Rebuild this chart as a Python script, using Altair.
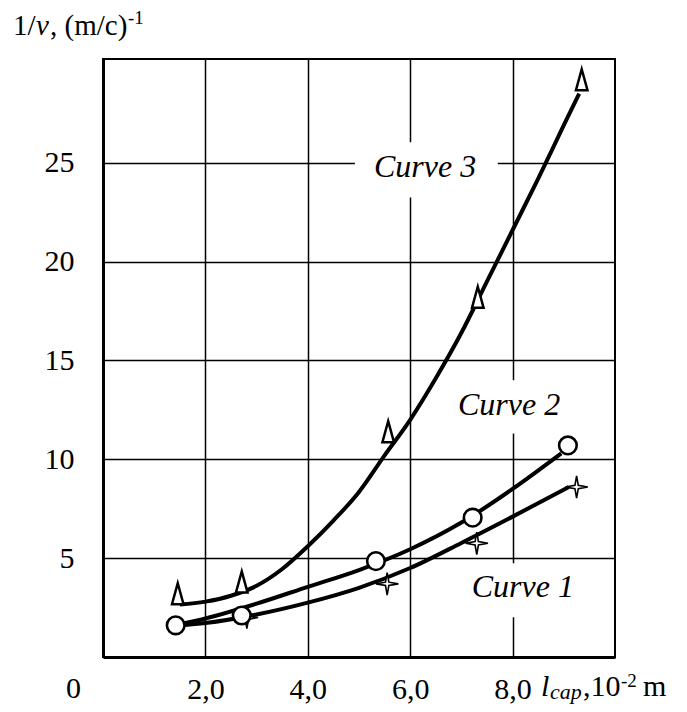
import altair as alt
import pandas as pd

FONT = "Liberation Serif"

# ---- smooth fitted curves ----
c1_x = [1.5, 2, 3, 4, 5, 6, 7, 8, 9.1]
c1_y = [1.6, 1.72, 2.15, 2.75, 3.5, 4.5, 5.77, 7.1, 8.6]
c2_x = [1.5, 2, 3, 4, 5, 6, 7, 8, 8.95]
c2_y = [1.65, 1.95, 2.7, 3.55, 4.4, 5.45, 6.8, 8.5, 10.3]
c3_x = [1.5, 2, 2.5, 3, 3.5, 4, 4.5, 5, 5.5, 6, 6.5, 7, 7.5, 8, 8.5, 9, 9.3]
c3_y = [2.65, 2.8, 3.1, 3.6, 4.45, 5.6, 6.9, 8.35, 10.2, 12.0, 14.1, 16.4, 19.0, 21.6, 24.2, 26.9, 28.5]

# ---- measured points ----
p1_x = [2.81, 5.55, 7.3, 9.25]
p1_y = [2.0, 3.7, 5.75, 8.6]
p2_x = [1.42, 2.71, 5.33, 7.22, 9.08]
p2_y = [1.6, 2.1, 4.85, 7.05, 10.7]
p3_x = [1.46, 2.71, 5.57, 7.32, 9.35]
p3_y = [3.2, 3.8, 11.4, 18.2, 29.2]

# ---- curve labels ----
label_text = ["Curve  3", "Curve  2", "Curve 1"]
label_x = [6.29, 7.93, 8.2]
label_y = [24.27, 12.23, 3.02]
box_x1 = [4.92, 6.68, 7.0]
box_x2 = [7.71, 9.2, 9.5]
box_y1 = [23.25, 11.3, 2.01]
box_y2 = [26.04, 14.0, 4.74]

x_ticks = [2, 4, 6, 8]
y_ticks = [5, 10, 15, 20, 25]

xs = alt.Scale(domain=[0, 10], nice=False, zero=False)
ys = alt.Scale(domain=[0, 30.25], nice=False, zero=False)

x_axis = alt.Axis(values=x_ticks, labelExpr="replace(format(datum.value,'.1f'),'.',',')",
                  grid=True, gridColor="black", gridWidth=1.5, gridOpacity=1,
                  ticks=False, tickSize=0, domain=True, domainColor="black", domainWidth=3,
                  labelFont=FONT, labelFontSize=30, labelColor="black", labelPadding=17,
                  labelFlush=False, title=None)
y_axis = alt.Axis(values=y_ticks, grid=True, gridColor="black", gridWidth=1.5, gridOpacity=1,
                  ticks=False, tickSize=0, domain=True, domainColor="black", domainWidth=3,
                  labelFont=FONT, labelFontSize=30, labelColor="black", labelPadding=29,
                  labelAlign="right", labelBaseline="middle", labelFlush=False, title=None)

def line_df(xv, yv):
    return pd.DataFrame({"x": xv, "y": yv})

boxes = alt.Chart(pd.DataFrame({"x1": box_x1, "x2": box_x2, "y1": box_y1, "y2": box_y2})).mark_rect(
    fill="white").encode(
    x=alt.X("x1:Q", scale=xs, axis=x_axis), x2="x2:Q",
    y=alt.Y("y1:Q", scale=ys, axis=y_axis), y2="y2:Q")

def curve(xv, yv):
    return alt.Chart(line_df(xv, yv)).mark_line(color="black", strokeWidth=4, interpolate="monotone").encode(
        x=alt.X("x:Q", scale=xs), y=alt.Y("y:Q", scale=ys))

STAR = "M0,-1L0.15,-0.15L1,0L0.15,0.15L0,1L-0.15,0.15L-1,0L-0.15,-0.15Z"
TRI = "M0,-1L0.55,1L-0.55,1Z"

def pts(xv, yv, shape, size, sw):
    return alt.Chart(line_df(xv, yv)).mark_point(shape=shape, size=size, filled=True, fill="white",
                                                  stroke="black", strokeWidth=sw, opacity=1).encode(
        x=alt.X("x:Q", scale=xs), y=alt.Y("y:Q", scale=ys))

labels = alt.Chart(pd.DataFrame({"t": label_text, "x": label_x, "y": label_y})).mark_text(
    font=FONT, fontStyle="italic", fontSize=32, align="center", baseline="alphabetic", color="black").encode(
    x=alt.X("x:Q", scale=xs), y=alt.Y("y:Q", scale=ys), text="t:N")

def txt(s, x, y, size=30, italic=False):
    return alt.Chart(alt.Data(values=[{}])).mark_text(
        text=s, font=FONT, fontSize=size, fontStyle="italic" if italic else "normal",
        align="left", baseline="alphabetic", color="black").encode(x=alt.value(x), y=alt.value(y))

texts = [
    # origin label
    txt("0", -37, 639),
    # x title: l_cap, 10^-2 m
    txt("l", 438, 637, 30, True),
    txt("cap", 447, 640, 22, True),
    txt(",10", 480, 637),
    txt("-2", 518, 628, 19),
    txt("m", 540, 637),
    # y title: 1/v, (m/c)^-1
    txt("1/", -90, -24, 29),
    txt("v", -67, -24, 29, True),
    txt(", (m/c)", -53, -24, 29),
    txt("-1", 25, -35, 19),
]

chart = alt.layer(
    boxes,
    curve(c1_x, c1_y), curve(c2_x, c2_y), curve(c3_x, c3_y),
    pts(p1_x, p1_y, STAR, 500, 1.6),
    pts(p2_x, p2_y, "circle", 310, 2.6),
    pts(p3_x, p3_y, TRI, 441, 2.5),
    labels,
    *texts,
).properties(
    width=512, height=598, autosize="none",
    padding={"left": 95, "top": 51, "right": 64, "bottom": 47},
    background="white",
).configure_view(stroke="black", strokeWidth=2)

chart.save("out.html", embed_options={"renderer": "svg", "actions": False})
